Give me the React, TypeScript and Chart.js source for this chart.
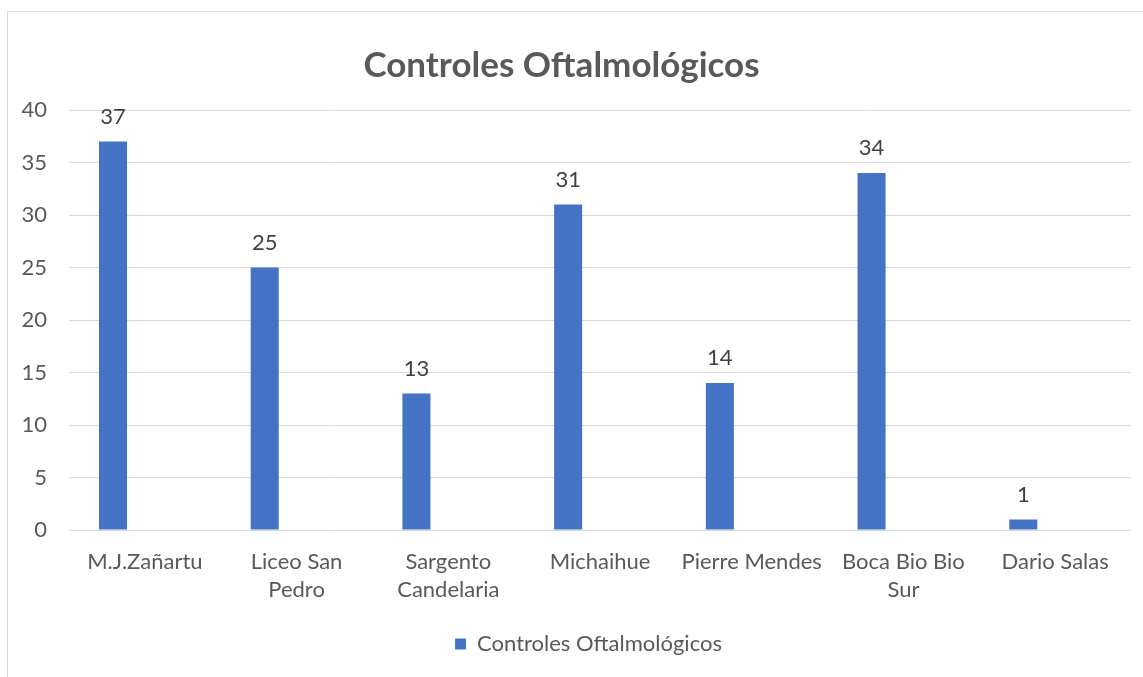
import React, { useEffect, useRef } from "react";
import { Chart, registerables } from "chart.js";

Chart.register(...registerables);

const categories: string[][] = [
  ["M.J.Zañartu"],
  ["Liceo San", "Pedro"],
  ["Sargento", "Candelaria"],
  ["Michaihue"],
  ["Pierre Mendes"],
  ["Boca Bio Bio", "Sur"],
  ["Dario Salas"],
];
const seriesName = "Controles Oftalmológicos";
const values: number[] = [37, 25, 13, 31, 14, 34, 1];
const emptySeries: (number | null)[] = [null, null, null, null, null, null, null];
const yTicks: number[] = [0, 5, 10, 15, 20, 25, 30, 35, 40];
const titleText = "Controles Oftalmológicos";

const FONT = "Lato, 'Open Sans', sans-serif";
const TEXT = "#595959";
const BAR = "#4472C4";
const GRID = "#d9d9d9";

const labelPlugin = {
  id: "valueLabels",
  afterDatasetsDraw(chart: any) {
    const ctx = chart.ctx;
    const meta = chart.getDatasetMeta(0);
    ctx.save();
    ctx.font = `22px ${FONT}`;
    ctx.fillStyle = "#404040";
    ctx.textAlign = "center";
    ctx.textBaseline = "middle";
    meta.data.forEach((el: any, i: number) => {
      ctx.fillText(String(values[i]), el.x, el.y - 25);
    });
    ctx.restore();
  },
};

const shiftPlugin = {
  id: "shiftBoxes",
  afterLayout(chart: any) {
    if (chart.legend) {
      chart.legend.left += 19;
      chart.legend.right += 19;
    }
    if (chart.titleBlock) {
      chart.titleBlock.left -= 8;
      chart.titleBlock.right -= 8;
    }
  },
};

export default function App() {
  const ref = useRef<HTMLCanvasElement | null>(null);
  useEffect(() => {
    if (!ref.current) return;
    const chart = new Chart(ref.current, {
      type: "bar",
      data: {
        labels: categories,
        datasets: [
          {
            label: seriesName,
            data: values,
            backgroundColor: BAR,
            borderWidth: 0,
            categoryPercentage: 0.84,
            barPercentage: 0.44,
          },
          {
            label: "_empty",
            data: emptySeries,
            backgroundColor: "transparent",
            categoryPercentage: 0.84,
            barPercentage: 0.44,
          },
        ],
      },
      options: {
        animation: false,
        responsive: false,
        maintainAspectRatio: false,
        layout: { padding: { left: 0, right: 12, top: 0, bottom: 12 } },
        plugins: {
          title: {
            display: true,
            text: titleText,
            color: TEXT,
            font: { family: FONT, size: 35, weight: "bold", lineHeight: 1.2 },
            padding: { top: 33, bottom: 23 },
          },
          legend: {
            position: "bottom",
            labels: {
              color: TEXT,
              font: { family: FONT, size: 22 },
              boxWidth: 11,
              boxHeight: 11,
              padding: 10,
              filter: (item: any) => item.text !== "_empty",
            },
          },
          tooltip: { enabled: false },
        },
        scales: {
          x: {
            grid: { display: false, drawTicks: false },
            border: { display: false },
            ticks: {
              color: TEXT,
              font: { family: FONT, size: 22, lineHeight: 1.27 },
              padding: 18,
              maxRotation: 0,
              autoSkip: false,
            },
            afterFit: (scale: any) => {
              scale.height = 93;
            },
          },
          y: {
            min: 0,
            max: 40,
            grid: { color: GRID, drawTicks: false, lineWidth: 1 },
            border: { display: false },
            ticks: {
              stepSize: 5,
              color: TEXT,
              font: { family: FONT, size: 22 },
              padding: 22,
            },
            afterBuildTicks: (scale: any) => {
              scale.ticks = yTicks.map((v) => ({ value: v }));
            },
            afterFit: (scale: any) => {
              scale.width = 61;
            },
          },
        },
      },
      plugins: [labelPlugin, shiftPlugin],
    });
    return () => chart.destroy();
  }, []);

  return (
    <div style={{ position: "fixed", inset: 0, overflow: "hidden", background: "#fff" }}>
      <div
        style={{
          position: "absolute",
          left: 7,
          top: 11,
          width: 1160,
          height: 700,
          border: "1px solid #d9d9d9",
          boxSizing: "border-box",
        }}
      />
      <canvas
        ref={ref}
        width={1135}
        height={665}
        style={{ position: "absolute", left: 8, top: 12, width: 1135, height: 665 }}
      />
    </div>
  );
}
